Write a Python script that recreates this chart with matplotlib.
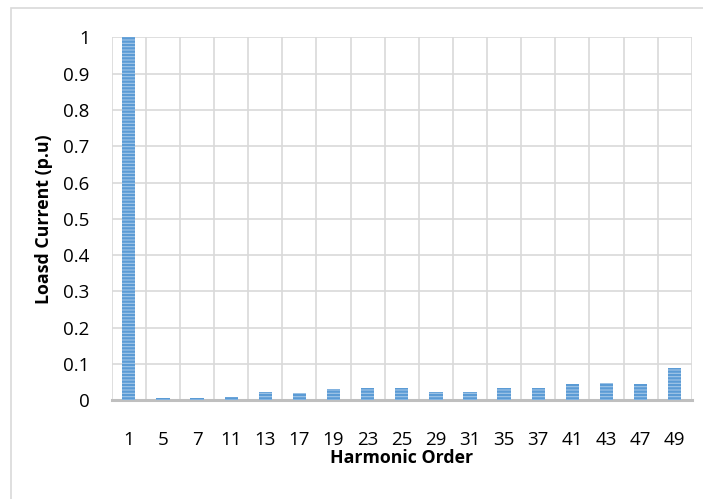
import numpy as np
import matplotlib.pyplot as plt
from matplotlib.patches import Rectangle

orders = ["1", "5", "7", "11", "13", "17", "19", "23", "25", "29", "31",
          "35", "37", "41", "43", "47", "49"]
current = [1.0, 0.005, 0.007, 0.01, 0.022, 0.021, 0.032, 0.035, 0.035,
           0.022, 0.023, 0.035, 0.035, 0.046, 0.048, 0.046, 0.088]
yticks = [0, 0.1, 0.2, 0.3, 0.4, 0.5, 0.6, 0.7, 0.8, 0.9, 1]
ytick_labels = ["0", "0.1", "0.2", "0.3", "0.4", "0.5", "0.6", "0.7", "0.8", "0.9", "1"]

plt.rcParams['font.family'] = ['Open Sans', 'DejaVu Sans']
plt.rcParams['hatch.linewidth'] = 1.6
plt.rcParams['hatch.color'] = '#5B9BD5'

fig = plt.figure(figsize=(7.03, 4.99), dpi=100)
fig.patches.append(Rectangle((11 / 703, -0.1), 1.2, 1 - 8 / 499 + 0.1,
                             transform=fig.transFigure, fill=False,
                             edgecolor='#D9D9D9', linewidth=1.2))
ax = fig.add_axes([0.159, 0.198, 0.825, 0.727])

x = np.arange(len(orders))
ax.bar(x, current, width=0.39, color='#A2C6E8', edgecolor='#5B9BD5',
       linewidth=0, hatch='-----', zorder=3)

ax.set_xlim(-0.5, len(orders) - 0.5)
ax.set_ylim(0, 1)
ax.set_yticks(yticks)
ax.set_yticklabels(ytick_labels)
ax.set_xticks(x)
ax.set_xticklabels(orders)
ax.set_xticks(np.arange(-0.5, len(orders)), minor=True)
ax.grid(True, axis='y', color='#D9D9D9', linewidth=1.2, zorder=0)
ax.grid(True, axis='x', which='minor', color='#D9D9D9', linewidth=1.2, zorder=0)
ax.tick_params(axis='both', which='both', length=0, labelsize=13.5)
ax.tick_params(axis='x', pad=22)
ax.tick_params(axis='y', pad=16)
for s in ['top', 'right', 'left']:
    ax.spines[s].set_visible(False)
ax.spines['bottom'].set_color('#BFBFBF')
ax.spines['bottom'].set_linewidth(2.2)
ax.spines['bottom'].set_zorder(2)

ax.set_xlabel("Harmonic Order", fontsize=12.8, fontweight='bold', labelpad=0)
ax.set_ylabel("Loasd Current (p.u)", fontsize=12.8, fontweight='bold', labelpad=7)

fig.savefig("out.png", dpi=100)
